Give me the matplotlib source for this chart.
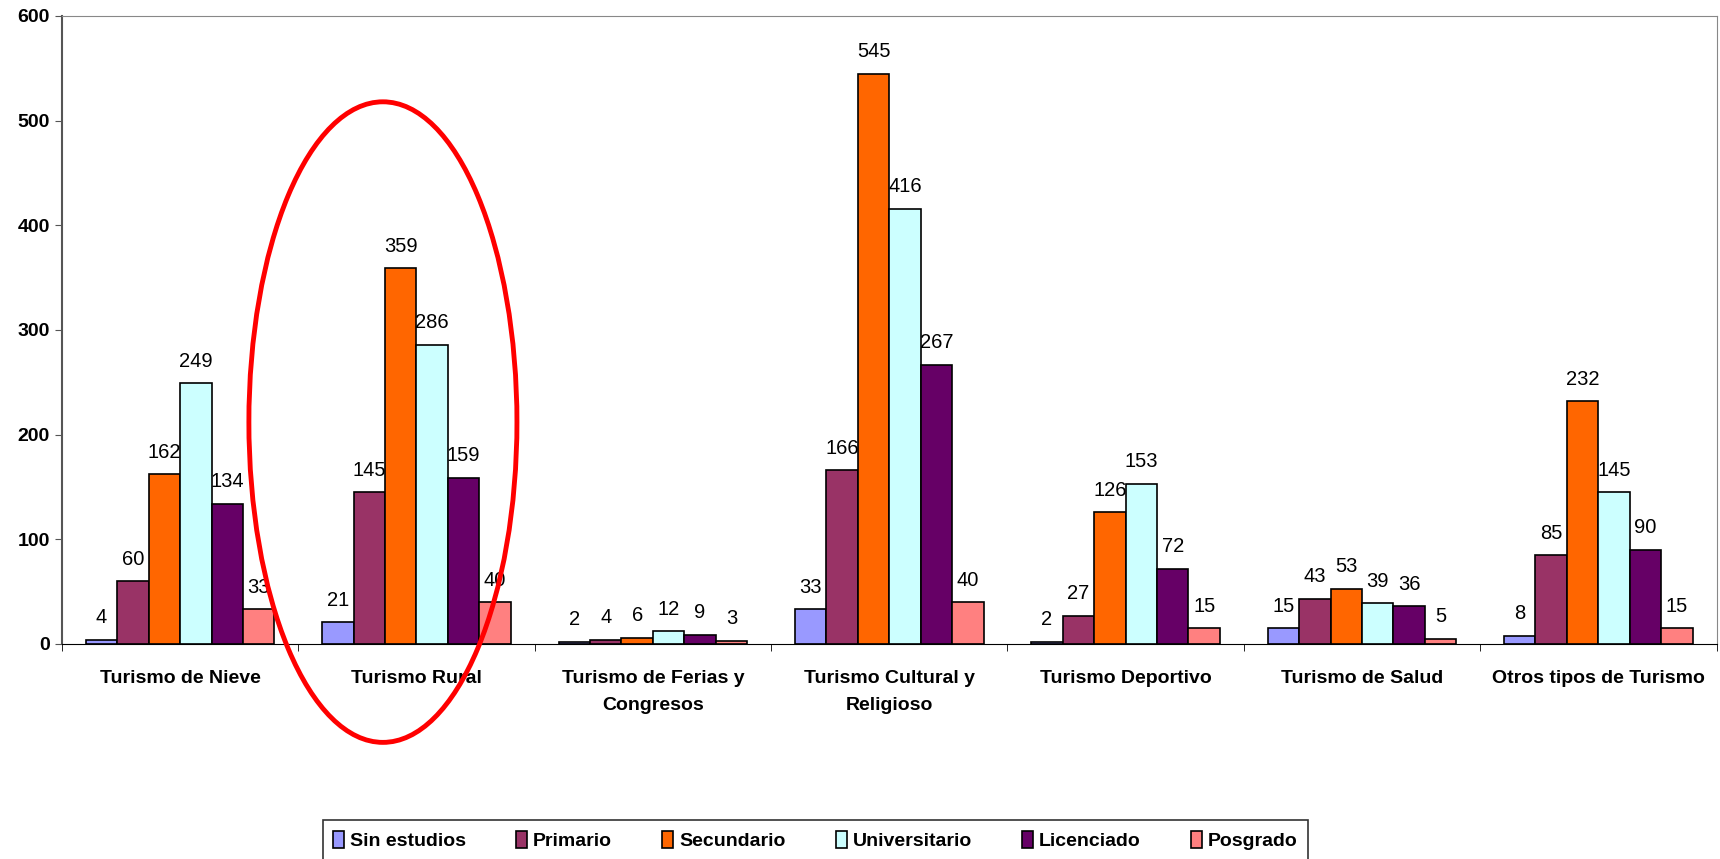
import numpy as np
import matplotlib.pyplot as plt
from matplotlib.patches import Ellipse

plt.rcParams['font.family'] = ['Liberation Sans', 'DejaVu Sans']

categorias = ['Turismo de Nieve', 'Turismo Rural', 'Turismo de Ferias y\nCongresos',
              'Turismo Cultural y\nReligioso', 'Turismo Deportivo', 'Turismo de Salud',
              'Otros tipos de Turismo']
niveles = ['Sin estudios', 'Primario', 'Secundario', 'Universitario', 'Licenciado', 'Posgrado']
colores = ['#9999FF', '#993366', '#FF6600', '#CCFFFF', '#660066', '#FF8080']

sin_estudios = [4, 21, 2, 33, 2, 15, 8]
primario = [60, 145, 4, 166, 27, 43, 85]
secundario = [162, 359, 6, 545, 126, 53, 232]
universitario = [249, 286, 12, 416, 153, 39, 145]
licenciado = [134, 159, 9, 267, 72, 36, 90]
posgrado = [33, 40, 3, 40, 15, 5, 15]
series = [sin_estudios, primario, secundario, universitario, licenciado, posgrado]

fig = plt.figure(figsize=(17.2, 8.59), dpi=100)
ax = fig.add_axes([0.036, 0.2503, 0.962, 0.7311])

x = np.arange(len(categorias))
w = 0.133
for i, (vals, nom, col) in enumerate(zip(series, niveles, colores)):
    bars = ax.bar(x + (i - 2.5) * w, vals, w, color=col, edgecolor='black',
                  linewidth=1.2, label=nom)
    ax.bar_label(bars, padding=9, fontsize=14.5)

ax.set_xlim(-0.5, len(categorias) - 0.5)
ax.set_ylim(0, 600)
ax.set_yticks(range(0, 601, 100))
ax.set_xticks(x)
ax.set_xticklabels(categorias, fontsize=14, fontweight='bold', linespacing=1.75)
ax.tick_params(axis='x', length=0, pad=19)
ax.set_xticks(np.arange(len(categorias) + 1) - 0.5, minor=True)
ax.tick_params(axis='x', which='minor', length=5, direction='out')
for t in ax.get_yticklabels():
    t.set_fontweight('bold')
    t.set_fontsize(14)
ax.tick_params(axis='y', length=5, direction='out', color='#555555')

ax.spines['left'].set_color('#555555')
ax.spines['left'].set_linewidth(1.5)
ax.spines['bottom'].set_color('black')
ax.spines['top'].set_color('#888888')
ax.spines['right'].set_color('#888888')

# circled group
ell = Ellipse((0.858, 212), 1.134, 612, fill=False, edgecolor='#FF0000',
              linewidth=3.5, clip_on=False, zorder=5)
ax.add_patch(ell)

leg = fig.legend(loc='upper center', bbox_to_anchor=(0.474, 0.0455), ncol=6,
                 frameon=True, fancybox=False, edgecolor='black',
                 prop={'weight': 'bold', 'size': 14}, handlelength=0.55,
                 handleheight=1.0, handletextpad=0.3, columnspacing=2.6,
                 borderpad=0.55, borderaxespad=0)
leg.get_frame().set_linewidth(1.2)

fig.savefig('out.png', dpi=100)
